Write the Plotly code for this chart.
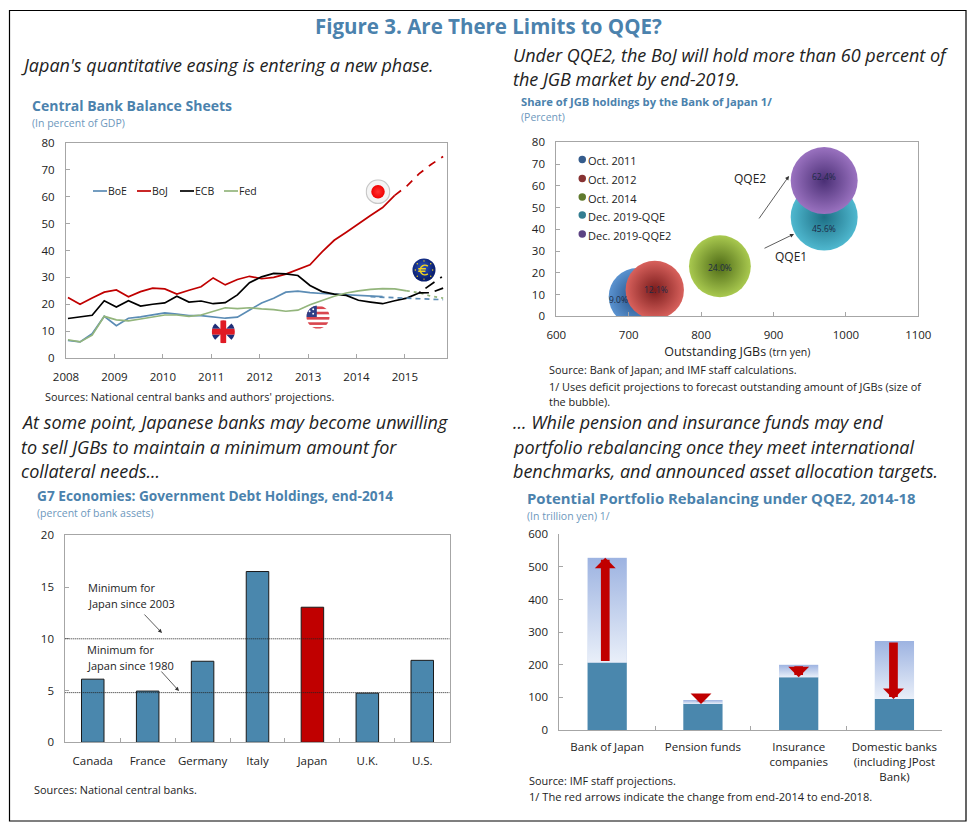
import base64
import plotly.graph_objects as go

W, H = 978, 838
FONT = "Open Sans"
BLUE_T = "#4b82ad"
BLUE_S = "#6d98bd"
TXT = "#222222"
AXC = "#a6a6a6"

# ---------- Panel 1: balance sheets ----------
Q = [2008.0, 2008.25, 2008.5, 2008.75, 2009.0, 2009.25, 2009.5, 2009.75,
     2010.0, 2010.25, 2010.5, 2010.75, 2011.0, 2011.25, 2011.5, 2011.75,
     2012.0, 2012.25, 2012.5, 2012.75, 2013.0, 2013.25, 2013.5, 2013.75,
     2014.0, 2014.25, 2014.5, 2014.75, 2015.0, 2015.25, 2015.5, 2015.75]
boe = [6.5, 6, 9, 15.5, 12, 14.8, 15.3, 16, 16.8, 16.3, 15.8, 15.8, 15.3, 14.8, 15.2, 17.8,
       20.5, 22.2, 24.5, 24.9, 24.3, 24, 23.8, 23.5, 23.2, 23, 22.8]
boe_proj = [22.8, 22.6, 22.4, 22.3, 22.2, 21.9, 21.7]
boj = [22.5, 20, 22.3, 24.5, 25.3, 22.8, 24.7, 26, 25.7, 23.8, 25.2, 26.5, 29.8, 27.2, 29.2, 30.4,
       29.5, 30, 31.2, 33, 34.7, 39.5, 43.8, 46.8, 50, 53, 56, 60.5]
boj_proj = [60.5, 64, 68.5, 72, 75]
ecb = [14.7, 15.3, 15.9, 21.3, 19, 21.3, 19.3, 20, 20.5, 23, 20.8, 21.2, 20.2, 20.6, 23.5, 28,
       30.2, 31.5, 31.3, 30.7, 27, 24.7, 23.8, 23.3, 21.5, 20.8, 20.2, 21.3, 22.3, 24.2]
ecb_proj_low = [24.2, 24.3, 26]
ecb_proj_high = [24.2, 27.5, 30.5]
fed = [6.8, 6, 8.5, 15.5, 14.2, 13.8, 14.5, 15.3, 16, 16, 15.5, 16, 17.3, 18.7, 18.4, 18.7,
       18.3, 18, 17.4, 17.8, 19.8, 21.5, 23, 24.2, 25, 25.5, 25.8, 25.7, 25]
fed_proj = [25, 24.3, 23, 22.3]
years = [2008, 2009, 2010, 2011, 2012, 2013, 2014, 2015]

# ---------- Panel 2: bubbles ----------
bub_names = ["Oct. 2011", "Oct. 2012", "Oct. 2014", "Dec. 2019-QQE", "Dec. 2019-QQE2"]
bub_jgb = [712, 736, 826, 970, 970]
bub_share = [9.0, 12.1, 23.0, 45.6, 62.4]
bub_label = ["9.0%", "12.1%", "24.0%", "45.6%", "62.4%"]
bub_mid = ["#5b93d0", "#d8615c", "#a9c94f", "#4fb8cf", "#9a72c0"]
bub_dark = ["#1f4a80", "#7a1c1c", "#4f6b17", "#1d6f85", "#4a2f75"]

# ---------- Panel 3: debt holdings ----------
g7 = ["Canada", "France", "Germany", "Italy", "Japan", "U.K.", "U.S."]
g7_vals = [6.1, 4.95, 7.83, 16.5, 13.05, 4.75, 7.92]
min_2003 = 10
min_1980 = 4.8

# ---------- Panel 4: rebalancing ----------
holders = ["Bank of Japan", "Pension funds", "Insurance<br>companies",
           "Domestic banks<br>(including JPost<br>Bank)"]
end_2014 = [207, 92, 200, 273]
end_2018 = [528, 80, 162, 95]


def X(p):
    return p / W


def Y(p):
    return 1 - p / H


fig = go.Figure()


def note(x, y, s, size=11, color=TXT, anchor="left", family=FONT):
    px = x - 2.5 if anchor == "left" else x
    fig.add_annotation(xref="paper", yref="paper", x=X(px), y=Y(y), text=s, showarrow=False,
                       xanchor=anchor, yanchor="middle", align=anchor,
                       font=dict(family=family, size=size, color=color))


def arrow(x0, y0, x1, y1):
    fig.add_annotation(xref="paper", yref="paper", axref="pixel", ayref="pixel",
                       x=X(x1), y=Y(y1), ax=x0 - x1, ay=y0 - y1, text="", showarrow=True,
                       arrowhead=2, arrowsize=1, arrowwidth=0.8, arrowcolor="#333333")


def svg_uri(body, vb="0 0 100 100"):
    s = f'<svg xmlns="http://www.w3.org/2000/svg" viewBox="{vb}" preserveAspectRatio="none">{body}</svg>'
    return "data:image/svg+xml;base64," + base64.b64encode(s.encode()).decode()


def flag(cx, cy, r, body):
    fig.add_layout_image(source=svg_uri(body), xref="paper", yref="paper", x=X(cx - r), y=Y(cy - r),
                         sizex=2 * r / W, sizey=2 * r / H, xanchor="left", yanchor="top",
                         sizing="stretch", layer="above")


# ---- axes ----
def axis_common():
    return dict(showgrid=False, zeroline=False, linecolor=AXC, linewidth=1, mirror=True, showline=True,
                automargin=False, tickangle=0, ticks="inside", ticklen=4, tickcolor=AXC,
                tickfont=dict(family=FONT, size=11.5, color=TXT))


fig.update_layout(
    width=W, height=H, margin=dict(l=0, r=0, t=0, b=0, autoexpand=False), paper_bgcolor="white", plot_bgcolor="white",
    showlegend=False, font=dict(family=FONT, color=TXT), barmode="overlay",
    xaxis=dict(axis_common(), domain=[X(66), X(447)], range=[2007.96, 2015.83], tickvals=[y - 0.04 for y in years],
               ticktext=[str(y) for y in years], ticklabelstandoff=8),
    yaxis=dict(axis_common(), domain=[Y(358), Y(143)], range=[0, 80], dtick=10, ticklabelstandoff=8),
    xaxis2=dict(axis_common(), anchor="y2", domain=[X(556.3), X(918.3)], range=[600, 1100], dtick=100,
                ticklabelstandoff=8,
                title=dict(text='Outstanding JGBs <span style="font-size:10.5px">(trn yen)</span>', standoff=6,
                           font=dict(family=FONT, size=12.5, color=TXT))),
    yaxis2=dict(axis_common(), anchor="x2", domain=[Y(316.3), Y(142.3)], range=[0, 80], dtick=10, ticklabelstandoff=8),
    xaxis3=dict(axis_common(), anchor="y3", domain=[X(65.3), X(449.7)], type="category", tickson="boundaries",
                ticklabelstandoff=8),
    yaxis3=dict(axis_common(), anchor="x3", domain=[Y(742.3), Y(535.3)], range=[0, 20], dtick=5, ticklabelstandoff=8),
    xaxis4=dict(axis_common(), anchor="y4", domain=[X(559.3), X(942.3)], type="category", tickson="boundaries",
                mirror=False, ticklabelstandoff=6),
    yaxis4=dict(axis_common(), anchor="x4", domain=[Y(730), Y(534.3)], range=[0, 600], dtick=100, mirror=False,
                ticklabelstandoff=8),
)

# ---- panel 1 traces ----
C_BOE, C_BOJ, C_ECB, C_FED = "#5b8cb5", "#c00000", "#000000", "#93b57c"
SER = [("BoE", boe, C_BOE), ("BoJ", boj, C_BOJ), ("ECB", ecb, C_ECB), ("Fed", fed, C_FED)]
for name, vals, col in SER:
    fig.add_trace(go.Scatter(x=Q[:len(vals)], y=vals, mode="lines", name=name,
                             line=dict(color=col, width=1.7), xaxis="x", yaxis="y"))
DASHED = [("BoE proj.", boe_proj, C_BOE, "5px,4px"), ("Fed proj.", fed_proj, C_FED, "3px,4px"),
          ("ECB proj.", ecb_proj_low, C_ECB, "10px,6px"), ("ECB proj. 2", ecb_proj_high, C_ECB, "2px,6px,11px,7px"),
          ("BoJ proj.", boj_proj, C_BOJ, "8px,7px")]
for name, vals, col, dash in DASHED:
    fig.add_trace(go.Scatter(x=Q[-len(vals):], y=vals, mode="lines", name=name,
                             line=dict(color=col, width=1.7, dash=dash), xaxis="x", yaxis="y"))

# panel 1 legend keys
for lx, name, col in [(93, "BoE", C_BOE), (137, "BoJ", C_BOJ), (180, "ECB", C_ECB), (224, "Fed", C_FED)]:
    fig.add_shape(type="line", xref="paper", yref="paper", x0=X(lx), x1=X(lx + 14), y0=Y(191), y1=Y(191),
                  line=dict(color=col, width=1.7))
    note(lx + 15, 191, name, size=10.5)

# flags
UK = ('<defs><clipPath id="c"><circle cx="50" cy="50" r="48"/></clipPath></defs><g clip-path="url(#c)">'
      '<rect width="100" height="100" fill="#fff"/>'
      '<path d="M0 0L38 38H0ZM100 0L62 38H100ZM0 100L38 62H0ZM100 100L62 62H100Z" fill="#1f2f78"/>'
      '<rect x="38" width="24" height="100" fill="#e01b24"/><rect y="38" width="100" height="24" fill="#e01b24"/></g>')
US = ('<defs><clipPath id="c"><circle cx="50" cy="50" r="48"/></clipPath></defs><g clip-path="url(#c)">'
      '<rect width="100" height="100" fill="#fff"/>'
      '<rect y="6" width="100" height="11" fill="#d9474f"/><rect y="28" width="100" height="11" fill="#d9474f"/>'
      '<rect y="50" width="100" height="11" fill="#d9474f"/><rect y="72" width="100" height="11" fill="#d9474f"/>'
      '<rect y="92" width="100" height="8" fill="#d9474f"/>'
      '<rect width="45" height="50" fill="#2f3f86"/>'
      '<circle cx="15" cy="26" r="4" fill="#fff"/><circle cx="30" cy="18" r="4" fill="#fff"/>'
      '<circle cx="30" cy="36" r="4" fill="#fff"/></g>')
JP = ('<defs><radialGradient id="g"><stop offset="0" stop-color="#ff3030"/><stop offset="1" stop-color="#f00000"/>'
      '</radialGradient></defs><circle cx="50" cy="50" r="47" fill="#f4f4f4" stroke="#c8c8c8" stroke-width="5"/>'
      '<circle cx="50" cy="50" r="27" fill="url(#g)"/>')
EU = ('<defs><radialGradient id="g" cx="45%" cy="40%"><stop offset="0" stop-color="#2f55c0"/>'
      '<stop offset="1" stop-color="#0a2070"/></radialGradient></defs>'
      '<circle cx="50" cy="50" r="48" fill="url(#g)"/>'
      '<path d="M66 34A20 20 0 1 0 66 66M26 45H58M26 55H56" fill="none" stroke="#f2d21f" stroke-width="6"/>'
      '<circle cx="50" cy="12" r="3" fill="#f2d21f"/><circle cx="50" cy="88" r="3" fill="#f2d21f"/>'
      '<circle cx="14" cy="50" r="3" fill="#f2d21f"/><circle cx="86" cy="50" r="3" fill="#f2d21f"/>'
      '<circle cx="78" cy="24" r="3" fill="#f2d21f"/><circle cx="78" cy="76" r="3" fill="#f2d21f"/>'
      '<circle cx="22" cy="24" r="3" fill="#f2d21f"/><circle cx="22" cy="76" r="3" fill="#f2d21f"/>')
flag(223.3, 331.7, 12, UK)
flag(318, 317, 12, US)
flag(378, 191.7, 12.5, JP)
flag(424, 270, 12, EU)

# ---- panel 2 traces ----
LABEL_SHIFT = [(-19, -3), (1, 0), (0, -1), (0, -11), (0, 4)]
for i, name in enumerate(bub_names):
    fig.add_trace(go.Scatter(
        x=[bub_jgb[i]], y=[bub_share[i]], mode="markers", name=name,
        marker=dict(size=[bub_jgb[i]], sizemode="area", sizeref=2 * 970 / 67 ** 2, color=bub_mid[i], opacity=1,
                    gradient=dict(type="radial", color=bub_dark[i]), line=dict(width=0)),
        xaxis="x2", yaxis="y2"))
    fig.add_annotation(xref="x2", yref="y2", x=bub_jgb[i], y=bub_share[i], text=bub_label[i], showarrow=False,
                       xshift=LABEL_SHIFT[i][0], yshift=LABEL_SHIFT[i][1],
                       font=dict(family=FONT, size=8.5, color="#1d2a45"))
for i, (name, ly) in enumerate(zip(bub_names, [160.5, 179.5, 198, 216, 235])):
    fig.add_shape(type="circle", xref="paper", yref="paper", x0=X(578.5), x1=X(586), y0=Y(ly - 1 + 3.7), y1=Y(ly - 1 - 3.7),
                  fillcolor=bub_dark[i], opacity=0.9, line=dict(width=0))
    note(588.5, ly, name, size=11)
note(734, 178.5, "QQE2", size=12)
note(775, 256.5, "QQE1", size=12)
arrow(758, 220, 789, 176)
arrow(763, 249, 794, 234)

# ---- panel 3 traces ----
fig.add_trace(go.Bar(x=g7, y=g7_vals, width=0.41, name="Government debt holdings",
                     marker=dict(color=[("#c00000" if c == "Japan" else "#4a87ad") for c in g7],
                                 line=dict(color="#1a1a1a", width=1)),
                     xaxis="x3", yaxis="y3"))
for v in (min_2003, min_1980):
    fig.add_shape(type="line", xref="x3 domain", yref="y3", x0=0, x1=1, y0=v, y1=v, layer="above",
                  line=dict(color="#222222", width=1, dash="1px,1px"))
note(88, 587, "Minimum for", size=11)
note(88, 603, "Japan since 2003", size=11)
note(87, 649, "Minimum for", size=11)
note(87, 665, "Japan since 1980", size=11)
arrow(143, 613, 162, 633)
arrow(160, 670, 179, 691)

# ---- panel 4 traces ----
lows = [min(a, b) for a, b in zip(end_2014, end_2018)]
highs = [max(a, b) for a, b in zip(end_2014, end_2018)]
fig.add_trace(go.Bar(x=holders, y=lows, width=0.41, name="Holdings", marker=dict(color="#4a87ad", line=dict(width=0)),
                     xaxis="x4", yaxis="y4"))
fig.add_trace(go.Bar(x=holders, y=[h - l for h, l in zip(highs, lows)], base=lows, width=0.41, name="Change",
                     marker=dict(color="#c9d6ee", line=dict(width=0)), xaxis="x4", yaxis="y4"))
GRAD = ('<defs><linearGradient id="g" x1="0" y1="0" x2="0" y2="1"><stop offset="0" stop-color="#9db3e1"/>'
        '<stop offset="1" stop-color="#e9eff9"/></linearGradient></defs><rect width="100" height="100" fill="url(#g)"/>')
for i in range(len(holders)):
    fig.add_layout_image(source=svg_uri(GRAD), xref="x4", yref="y4", x=i - 0.205, y=highs[i], sizex=0.41,
                         sizey=highs[i] - lows[i], xanchor="left", yanchor="top", sizing="stretch", layer="above")
for i, (a, b, dx) in enumerate(zip(end_2014, end_2018, [-0.02, -0.02, 0.0, -0.01])):
    fig.add_annotation(xref="x4", yref="y4", axref="x4", ayref="y4", x=i + dx, y=b, ax=i + dx, ay=a, text="",
                       showarrow=True, arrowhead=1, arrowsize=0.4, arrowwidth=8.7, arrowcolor="#c00000",
                       standoff=0, startstandoff=0)

# ---- page frame ----
fig.add_shape(type="rect", xref="paper", yref="paper", x0=X(9.5), x1=X(966), y0=Y(821), y1=Y(10.5),
              line=dict(color="#000000", width=1.2))

# ---- texts ----
note(488.5, 26, "<b>Figure 3. Are There Limits to QQE?</b>", size=20.5, color=BLUE_T, anchor="center")
IT = 18
note(21, 65, "<i>Japan's quantitative easing is entering a new phase.</i>", size=IT)
note(513, 55, "<i>Under QQE2, the BoJ will hold more than 60 percent of</i>", size=IT)
note(513, 79, "<i>the JGB market by end-2019.</i>", size=IT)
note(21, 422, "<i>At some point, Japanese banks may become unwilling</i>", size=IT)
note(21, 447, "<i>to sell JGBs to maintain a minimum amount for</i>", size=IT)
note(21, 471, "<i>collateral needs...</i>", size=IT)
note(513, 422, "<i>... While pension and insurance funds may end</i>", size=IT)
note(513, 447, "<i>portfolio rebalancing once they meet international</i>", size=IT)
note(513, 471, "<i>benchmarks, and announced asset allocation targets.</i>", size=IT)

note(32, 106, "<b>Central Bank Balance Sheets</b>", size=14, color=BLUE_T)
note(32, 123, "(In percent of GDP)", size=10.5, color=BLUE_S)
note(521, 102, "<b>Share of JGB holdings by the Bank of Japan 1/</b>", size=11.2, color=BLUE_T)
note(521, 117, "(Percent)", size=10.5, color=BLUE_S)
note(37, 496, "<b>G7 Economies: Government Debt Holdings, end-2014</b>", size=13.7, color=BLUE_T)
note(37, 513, "(percent of bank assets)", size=10.5, color=BLUE_S)
note(527, 498, "<b>Potential Portfolio Rebalancing under QQE2, 2014-18</b>", size=14.9, color=BLUE_T)
note(527, 516, "(In trillion yen) 1/", size=10.5, color=BLUE_S)

SRC = 10.9
note(45, 396, "Sources: National central banks and authors' projections.", size=SRC)
note(549, 370, "Source: Bank of Japan; and IMF staff calculations.", size=SRC)
note(549, 386, "1/ Uses deficit projections to forecast outstanding amount of JGBs (size of", size=SRC)
note(549, 401, "the bubble).", size=SRC)
note(34, 789, "Sources: National central banks.", size=SRC)
note(529, 780, "Source: IMF staff projections.", size=SRC)
note(529, 796, "1/ The red arrows indicate the change from end-2014 to end-2018.", size=11.1)

fig.write_html("out.html", config={"displayModeBar": False},
               post_script="document.body.style.margin='0';document.body.style.overflow='hidden';")
